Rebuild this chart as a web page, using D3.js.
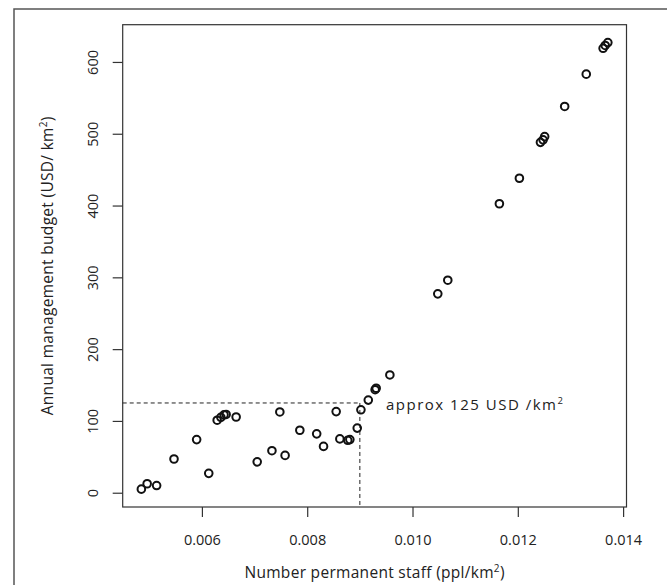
<!DOCTYPE html>
<html><head><meta charset="utf-8">
<script src="https://cdn.jsdelivr.net/npm/d3@7/dist/d3.min.js"></script>
<style>
html,body{margin:0;padding:0;background:#fff;}
svg{display:block;}
text{font-family:"Open Sans","Noto Sans",sans-serif;fill:#222;}
</style></head>
<body>
<svg id="chart" width="667" height="585"></svg>
<script>
// Data
const staff = [0.00485,0.00496,0.00514,0.00547,0.00590,0.00613,0.00629,0.00636,0.00642,0.00646,
  0.00665,0.00705,0.00733,0.00748,0.00758,0.00786,0.00818,0.00831,0.00855,0.00862,
  0.00877,0.00881,0.00895,0.00902,0.00916,0.00929,0.00931,0.00957,0.01048,0.01067,
  0.01165,0.01203,0.01243,0.01248,0.01251,0.01289,0.01330,0.01362,0.01366,0.01371];
const budget = [5,12.5,10,47,74,27,101,105,108.5,109,
  105.5,43,58.5,112.5,52,87,82,64.5,113,75,
  73,74,90,115.5,129,143.5,145.5,164,277,296,
  402.5,438,488,491.5,496,538,583,619,623,627];
const xTicks = [0.006,0.008,0.010,0.012,0.014];
const yTicks = [0,100,200,300,400,500,600];
const refStaff = 0.009;
const refBudget = 125;

(function(){
const svg = d3.select("#chart");
const pL = 122.7, pR = 626.5, pT = 24.7, pB = 507;

function rRange(v){ const mn = d3.min(v), mx = d3.max(v), e = (mx-mn)*0.04; return [mn-e, mx+e]; }
const x = d3.scaleLinear().domain(rRange(staff)).range([pL, pR]);
const y = d3.scaleLinear().domain(rRange(budget)).range([pB, pT]);

// outer frame
svg.append("path").attr("d","M14,585 L14,9 L667,9").attr("fill","none").attr("stroke","#555").attr("stroke-width",1.5);

// plot box
svg.append("rect").attr("x",pL).attr("y",pT).attr("width",pR-pL).attr("height",pB-pT)
  .attr("fill","none").attr("stroke","#333").attr("stroke-width",1.2);

// x axis
const xa = svg.append("g").attr("transform",`translate(0,${pB})`)
  .call(d3.axisBottom(x).tickValues(xTicks).tickFormat(d3.format(".3f")).tickSize(10).tickSizeOuter(0));
xa.select(".domain").remove();
xa.selectAll("line").attr("stroke","#333").attr("stroke-width",1.2);
xa.selectAll("text").attr("font-size",14.5).attr("dy",0).attr("y",38).style("font-family",'"Open Sans",sans-serif').attr("fill","#222");

// y axis
const ya = svg.append("g").attr("transform",`translate(${pL},0)`)
  .call(d3.axisLeft(y).tickValues(yTicks).tickSize(10).tickSizeOuter(0));
ya.select(".domain").remove();
ya.selectAll("line").attr("stroke","#333").attr("stroke-width",1.2);
ya.selectAll(".tick text").each(function(){
  const t = d3.select(this);
  t.attr("x",null).attr("dy",null).attr("text-anchor","middle")
   .attr("transform","translate(-30,0) rotate(-90)").attr("dominant-baseline","central")
   .attr("font-size",14.5).style("font-family",'"Open Sans",sans-serif').attr("fill","#222");
});

// reference dashed lines
svg.append("line").attr("x1",pL).attr("x2",x(refStaff)).attr("y1",y(refBudget)).attr("y2",y(refBudget))
  .attr("stroke","#222").attr("stroke-width",1).attr("stroke-dasharray","4,3");
svg.append("line").attr("x1",x(refStaff)).attr("x2",x(refStaff)).attr("y1",y(refBudget)).attr("y2",pB)
  .attr("stroke","#222").attr("stroke-width",1).attr("stroke-dasharray","4,3");

// points
svg.append("g").selectAll("circle").data(staff.map((s,i)=>[s,budget[i]])).join("circle")
  .attr("cx",d=>x(d[0])).attr("cy",d=>y(d[1])).attr("r",3.8)
  .attr("fill","none").attr("stroke","#111").attr("stroke-width",2);

// annotation
const ann = svg.append("text").attr("x",386).attr("y",y(refBudget)+7).attr("font-size",15).attr("letter-spacing","1.5px");
ann.append("tspan").text("approx 125 USD /km");
ann.append("tspan").text("2").attr("font-size",9.5).attr("dy",-6);

// axis titles
const xt = svg.append("text").attr("x",(pL+pR)/2).attr("y",578).attr("text-anchor","middle").attr("font-size",15.5).attr("letter-spacing","0.3px");
xt.append("tspan").text("Number permanent staff (ppl/km");
xt.append("tspan").text("2").attr("font-size",10).attr("dy",-6);
xt.append("tspan").text(")").attr("dy",6);

const yt = svg.append("text").attr("transform",`translate(53,${(pT+pB)/2}) rotate(-90)`).attr("text-anchor","middle").attr("font-size",15.5).attr("letter-spacing","0.3px");
yt.append("tspan").text("Annual management budget (USD/ km");
yt.append("tspan").text("2").attr("font-size",10).attr("dy",-6);
yt.append("tspan").text(")").attr("dy",6);
})();
</script>
</body></html>
